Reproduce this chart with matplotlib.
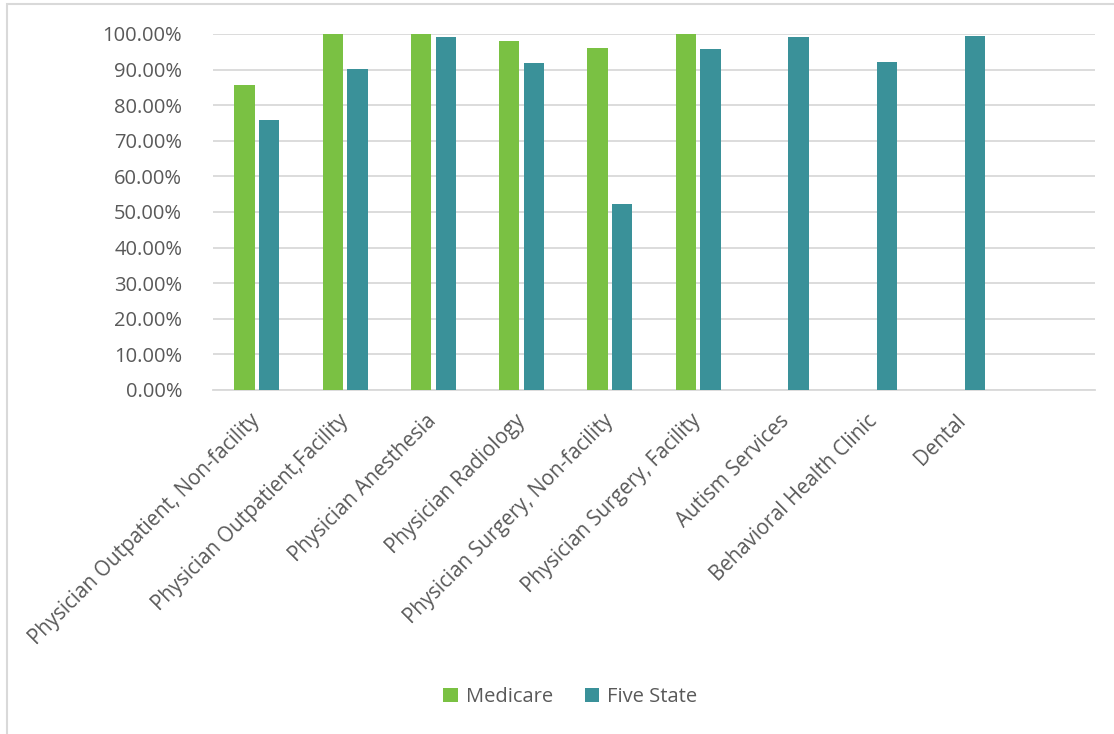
import matplotlib

matplotlib.use("Agg")
import matplotlib.pyplot as plt
import numpy as np
from matplotlib.patches import Rectangle
from matplotlib.ticker import FuncFormatter

categories = [
    "Physician Outpatient, Non-facility",
    "Physician Outpatient,Facility",
    "Physician Anesthesia",
    "Physician Radiology",
    "Physician Surgery, Non-facility",
    "Physician Surgery, Facility",
    "Autism Services",
    "Behavioral Health Clinic",
    "Dental",
    "",
]
medicare = [85.6, 100.0, 100.0, 98.1, 96.0, 100.0, np.nan, np.nan, np.nan, np.nan]
five_state = [75.8, 90.1, 99.2, 91.9, 52.2, 95.7, 99.2, 92.2, 99.3, np.nan]

GREEN = "#7ac143"
TEAL = "#3a9199"
TEXT = "#595959"
GRID = "#d9d9d9"

plt.rcParams["font.family"] = ["Open Sans", "DejaVu Sans"]

fig = plt.figure(figsize=(11.14, 7.34), dpi=100)
ax = fig.add_axes([0.191, 0.4687, 0.792, 0.485])

x = np.arange(len(categories))
width = 0.23
ax.bar(x - 0.14, medicare, width=width, color=GREEN, label="Medicare", zorder=3)
ax.bar(x + 0.14, five_state, width=width, color=TEAL, label="Five State", zorder=3)

ax.set_xlim(-0.5, len(categories) - 0.5)
ax.set_ylim(0, 100)
ax.set_yticks(np.arange(0, 101, 10))
ax.yaxis.set_major_formatter(FuncFormatter(lambda v, _: f"{v:.2f}%"))
ax.grid(axis="y", color=GRID, linewidth=1.3, zorder=0)
ax.set_axisbelow(True)
for side in ["top", "right", "left"]:
    ax.spines[side].set_visible(False)
ax.spines["bottom"].set_color(GRID)
ax.spines["bottom"].set_linewidth(1.3)
ax.tick_params(axis="y", length=0, labelsize=14.5, labelcolor=TEXT, pad=22)
ax.tick_params(axis="x", length=0, labelsize=14.8, labelcolor=TEXT, pad=20)
ax.set_xticks(x)
ax.set_xticklabels(categories, rotation=45, ha="right", va="center",
                   rotation_mode="anchor")

fig.legend(
    loc="center",
    bbox_to_anchor=(0.512, 0.05),
    ncol=2,
    frameon=False,
    fontsize=14.5,
    labelcolor=TEXT,
    handlelength=0.7,
    handleheight=0.7,
    handletextpad=0.4,
    columnspacing=1.6,
)

fig.patches.append(
    Rectangle((0.006, -0.05), 1.1, 1.044, transform=fig.transFigure,
              fill=False, edgecolor=GRID, linewidth=1.5)
)

fig.savefig("out.png", dpi=100)
